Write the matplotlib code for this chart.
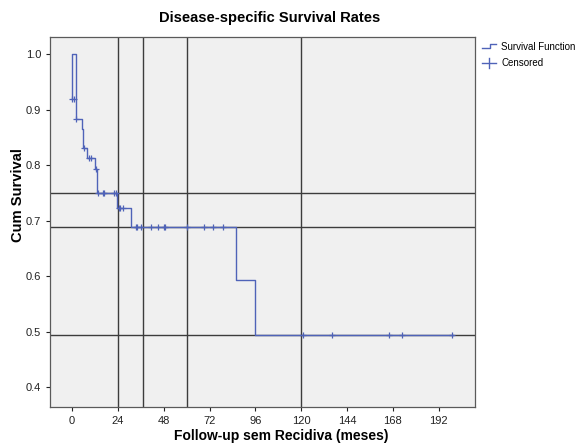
import matplotlib
matplotlib.use("Agg")
import matplotlib.pyplot as plt
from matplotlib.lines import Line2D

plt.rcParams["font.family"] = ["Liberation Sans", "DejaVu Sans"]

# Kaplan-Meier step curve (time in months, cumulative survival)
step_time = [0.1, 0.1, 1.9, 5.2, 5.9, 7.6, 12.0, 12.9, 23.7, 30.9, 85.9, 96.0, 199.5]
step_surv = [0.919, 1.0, 0.883, 0.865, 0.831, 0.814, 0.793, 0.751, 0.723, 0.689,
             0.593, 0.495, 0.495]

# censored observations
censor_time = [0.1, 1.0, 2.0, 6.2, 8.9, 9.7, 12.3,
               13.7, 16.0, 16.5, 22.1, 23.0,
               24.4, 25.1, 26.8,
               33.5, 33.8, 36.1, 41.2, 44.8, 48.1, 48.7, 60.2, 68.9, 74.0, 79.1,
               120.8, 136.0, 166.0, 173.0, 199.0]
censor_surv = [0.919, 0.919, 0.883, 0.831, 0.814, 0.814, 0.793,
               0.751, 0.751, 0.751, 0.751, 0.751,
               0.723, 0.723, 0.723,
               0.689, 0.689, 0.689, 0.689, 0.689, 0.689, 0.689, 0.689, 0.689, 0.689, 0.689,
               0.495, 0.495, 0.495, 0.495, 0.495]

# reference lines
ref_x = [24, 37, 60, 120]
ref_y = [0.75, 0.689, 0.494]

x_ticks = [0, 24, 48, 72, 96, 120, 144, 168, 192]
y_ticks = [0.4, 0.5, 0.6, 0.7, 0.8, 0.9, 1.0]

curve_col = "#4f63b8"
line_col = "#3c3c3c"

fig = plt.figure(figsize=(5.83, 4.43), dpi=100)
ax = fig.add_axes([0.0861, 0.0817, 0.7287, 0.8355])
ax.set_facecolor("#f0f0f0")

ax.plot(step_time, step_surv, drawstyle="steps-post", color=curve_col, lw=1.0, zorder=3)
ax.plot(censor_time, censor_surv, ls="none", marker="+", markersize=5,
        markeredgewidth=0.9, color=curve_col, zorder=3)

for x in ref_x:
    ax.axvline(x, color=line_col, lw=1.0, zorder=2)
for y in ref_y:
    ax.axhline(y, color=line_col, lw=1.0, zorder=2)

ax.set_xlim(-11.5, 211)
ax.set_ylim(0.365, 1.032)
ax.set_xticks(x_ticks)
ax.set_yticks(y_ticks)
ax.set_xticklabels([str(t) for t in x_ticks])
ax.set_yticklabels([f"{t:.1f}" for t in y_ticks])
ax.tick_params(direction="out", length=3, width=0.8, labelsize=8, colors="#222222")
for sp in ax.spines.values():
    sp.set_color("#5a5a5a")
    sp.set_linewidth(0.9)

fig.text(270 / 583, 1 - 18 / 443, "Disease-specific Survival Rates",
         ha="center", va="center", fontsize=10.6, fontweight="bold")
fig.text(281 / 583, 1 - 436 / 443, "Follow-up sem Recidiva (meses)",
         ha="center", va="center", fontsize=10, fontweight="bold")
fig.text(18 / 583, 1 - 195 / 443, "Cum Survival", rotation=90,
         ha="center", va="center", fontsize=10.6, fontweight="bold")

# legend outside plot, drawn by hand
W, H = 583.0, 443.0
step_icon = Line2D([482 / W, 490 / W, 490 / W, 496 / W],
                   [1 - 48 / H, 1 - 48 / H, 1 - 44 / H, 1 - 44 / H],
                   transform=fig.transFigure, color=curve_col, lw=1.0)
fig.add_artist(step_icon)
cross_icon = Line2D([482 / W, 496 / W], [1 - 63 / H, 1 - 63 / H],
                    transform=fig.transFigure, color=curve_col, lw=1.0)
fig.add_artist(cross_icon)
cross_tick = Line2D([489 / W, 489 / W], [1 - 58 / H, 1 - 68 / H],
                    transform=fig.transFigure, color=curve_col, lw=1.0)
fig.add_artist(cross_tick)
fig.text(501 / W, 1 - 47 / H, "Survival Function", ha="left", va="center", fontsize=7)
fig.text(501 / W, 1 - 63 / H, "Censored", ha="left", va="center", fontsize=7)

fig.savefig("out.png", dpi=100)
